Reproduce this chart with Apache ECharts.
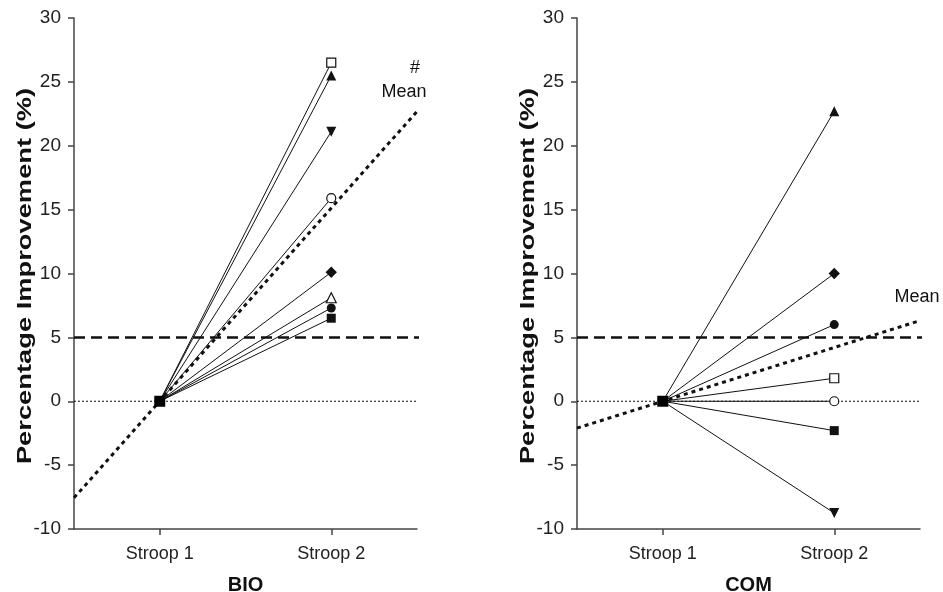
<!DOCTYPE html>
<html><head><meta charset="utf-8">
<script src="https://cdn.jsdelivr.net/npm/echarts@6/dist/echarts.min.js"></script>
<style>html,body{margin:0;padding:0;background:#fff}#c{width:943px;height:592px}</style>
</head><body><div id="c"></div>
<script>
const categories = ['Stroop 1', 'Stroop 2'];
const panelNames = ['BIO', 'COM'];
const yAxisTitle = 'Percentage Improvement (%)';
const yMin = -10, yMax = 30, yStep = 5;
const stroop1Value = 0;
const thresholdValue = 5;
const bioValues = [26.5, 25.5, 21.1, 15.9, 10.1, 8.1, 7.3, 6.5];
const bioSymbols = ['square-open', 'triangle', 'triangle-down', 'circle-open', 'diamond', 'triangle-open', 'circle', 'square'];
const comValues = [22.7, 10.0, 6.0, 1.8, 0.0, -2.3, -8.75];
const comSymbols = ['triangle', 'diamond', 'circle', 'square-open', 'circle-open', 'square', 'triangle-down'];
const meanLabels = [['#', 'Mean'], ['Mean']];

const FONT = "'Liberation Sans', Arial, sans-serif";
const INK = '#111';
const AXIS = '#444';

function symbolStyle(name) {
  const open = name.endsWith('-open');
  const base = name.replace('-open', '');
  let s = { symbol: 'circle', symbolSize: 9, symbolRotate: 0 };
  if (base === 'square') s = { symbol: 'rect', symbolSize: 9, symbolRotate: 0 };
  if (base === 'triangle') s = { symbol: 'triangle', symbolSize: 10, symbolRotate: 0 };
  if (base === 'triangle-down') s = { symbol: 'triangle', symbolSize: 10, symbolRotate: 180 };
  if (base === 'diamond') s = { symbol: 'rect', symbolSize: 8, symbolRotate: 45 };
  s.itemStyle = open ? { color: '#fff', borderColor: INK, borderWidth: 1.2 } : { color: INK };
  return s;
}

const panels = [
  { values: bioValues, symbols: bioSymbols, left: 74 },
  { values: comValues, symbols: comSymbols, left: 577 }
];

const grid = [], xAxis = [], yAxis = [], series = [];
panels.forEach((p, i) => {
  grid.push({ left: p.left, top: 18, width: 343, height: 511, containLabel: false, outerBoundsMode: 'none' });
  xAxis.push({
    type: 'value', gridIndex: i, min: -0.5, max: 1.5,
    axisLine: { show: true, onZero: false, lineStyle: { color: AXIS, width: 1.5 } },
    axisTick: { show: true, customValues: [0, 1], length: 6, lineStyle: { color: AXIS, width: 1.5 } },
    axisLabel: { customValues: [0, 1], formatter: v => categories[Math.round(v)], fontSize: 18, color: '#222', fontFamily: FONT, margin: 16 },
    splitLine: { show: false },
    name: panelNames[i], nameLocation: 'middle', nameGap: 46,
    nameTextStyle: { fontSize: 20, fontWeight: 'bold', color: '#111', fontFamily: FONT }
  });
  yAxis.push({
    type: 'value', gridIndex: i, min: yMin, max: yMax, interval: yStep,
    axisLine: { show: true, onZero: false, lineStyle: { color: AXIS, width: 1.5 } },
    axisTick: { show: true, length: 6, lineStyle: { color: AXIS, width: 1.5 } },
    axisLabel: { fontSize: 19, color: '#222', fontFamily: FONT, margin: 13 },
    splitLine: { show: false }
  });
  const common = { xAxisIndex: i, yAxisIndex: i, animation: false, silent: true };
  series.push(Object.assign({
    type: 'line', symbol: 'none', z: 1,
    data: [[-0.5, stroop1Value], [1.5, stroop1Value]],
    lineStyle: { color: INK, width: 1, type: [2, 2] }
  }, common));
  series.push(Object.assign({
    type: 'line', symbol: 'none', z: 2, clip: false,
    data: [[-0.5, thresholdValue], [1.59, thresholdValue]],
    lineStyle: { color: INK, width: 2.5, type: [11, 6] }
  }, common));
  p.values.forEach((v, k) => {
    const st = symbolStyle(p.symbols[k]);
    series.push(Object.assign({
      type: 'line', z: 4,
      symbol: st.symbol, symbolSize: st.symbolSize, symbolRotate: st.symbolRotate,
      itemStyle: st.itemStyle, showSymbol: true,
      data: [{ value: [0, stroop1Value], symbol: 'none' }, { value: [1, v] }],
      lineStyle: { color: INK, width: 1 }
    }, common));
  });
  const mean = p.values.reduce((a, b) => a + b, 0) / p.values.length;
  series.push(Object.assign({
    type: 'line', symbol: 'none', z: 5,
    data: [[-0.5, stroop1Value - 0.5 * (mean - stroop1Value)], [1.5, stroop1Value + 1.5 * (mean - stroop1Value)]],
    lineStyle: { color: INK, width: 3, type: [4, 4] }
  }, common));
  series.push(Object.assign({
    type: 'scatter', z: 10, symbol: 'rect', symbolSize: 11,
    itemStyle: { color: '#000', opacity: 1 }, data: [[0, stroop1Value]]
  }, common));
});

const graphic = [
  { type: 'text', x: 25, y: 276, rotation: Math.PI / 2, scaleX: 1.3, style: { text: yAxisTitle, font: 'bold 21px ' + FONT, fill: '#111', align: 'center', verticalAlign: 'middle' } },
  { type: 'text', x: 528, y: 276, rotation: Math.PI / 2, scaleX: 1.3, style: { text: yAxisTitle, font: 'bold 21px ' + FONT, fill: '#111', align: 'center', verticalAlign: 'middle' } },
  { type: 'text', x: 415, y: 68, style: { text: meanLabels[0][0], font: '18px ' + FONT, fill: '#111', align: 'center', verticalAlign: 'middle' } },
  { type: 'text', x: 404, y: 92, style: { text: meanLabels[0][1], font: '18px ' + FONT, fill: '#111', align: 'center', verticalAlign: 'middle' } },
  { type: 'text', x: 917, y: 297, style: { text: meanLabels[1][0], font: '18px ' + FONT, fill: '#111', align: 'center', verticalAlign: 'middle' } }
];

const chart = echarts.init(document.getElementById('c'), null, { renderer: 'canvas' });
chart.setOption({ animation: false, backgroundColor: '#fff', grid, xAxis, yAxis, series, graphic });
</script></body></html>
